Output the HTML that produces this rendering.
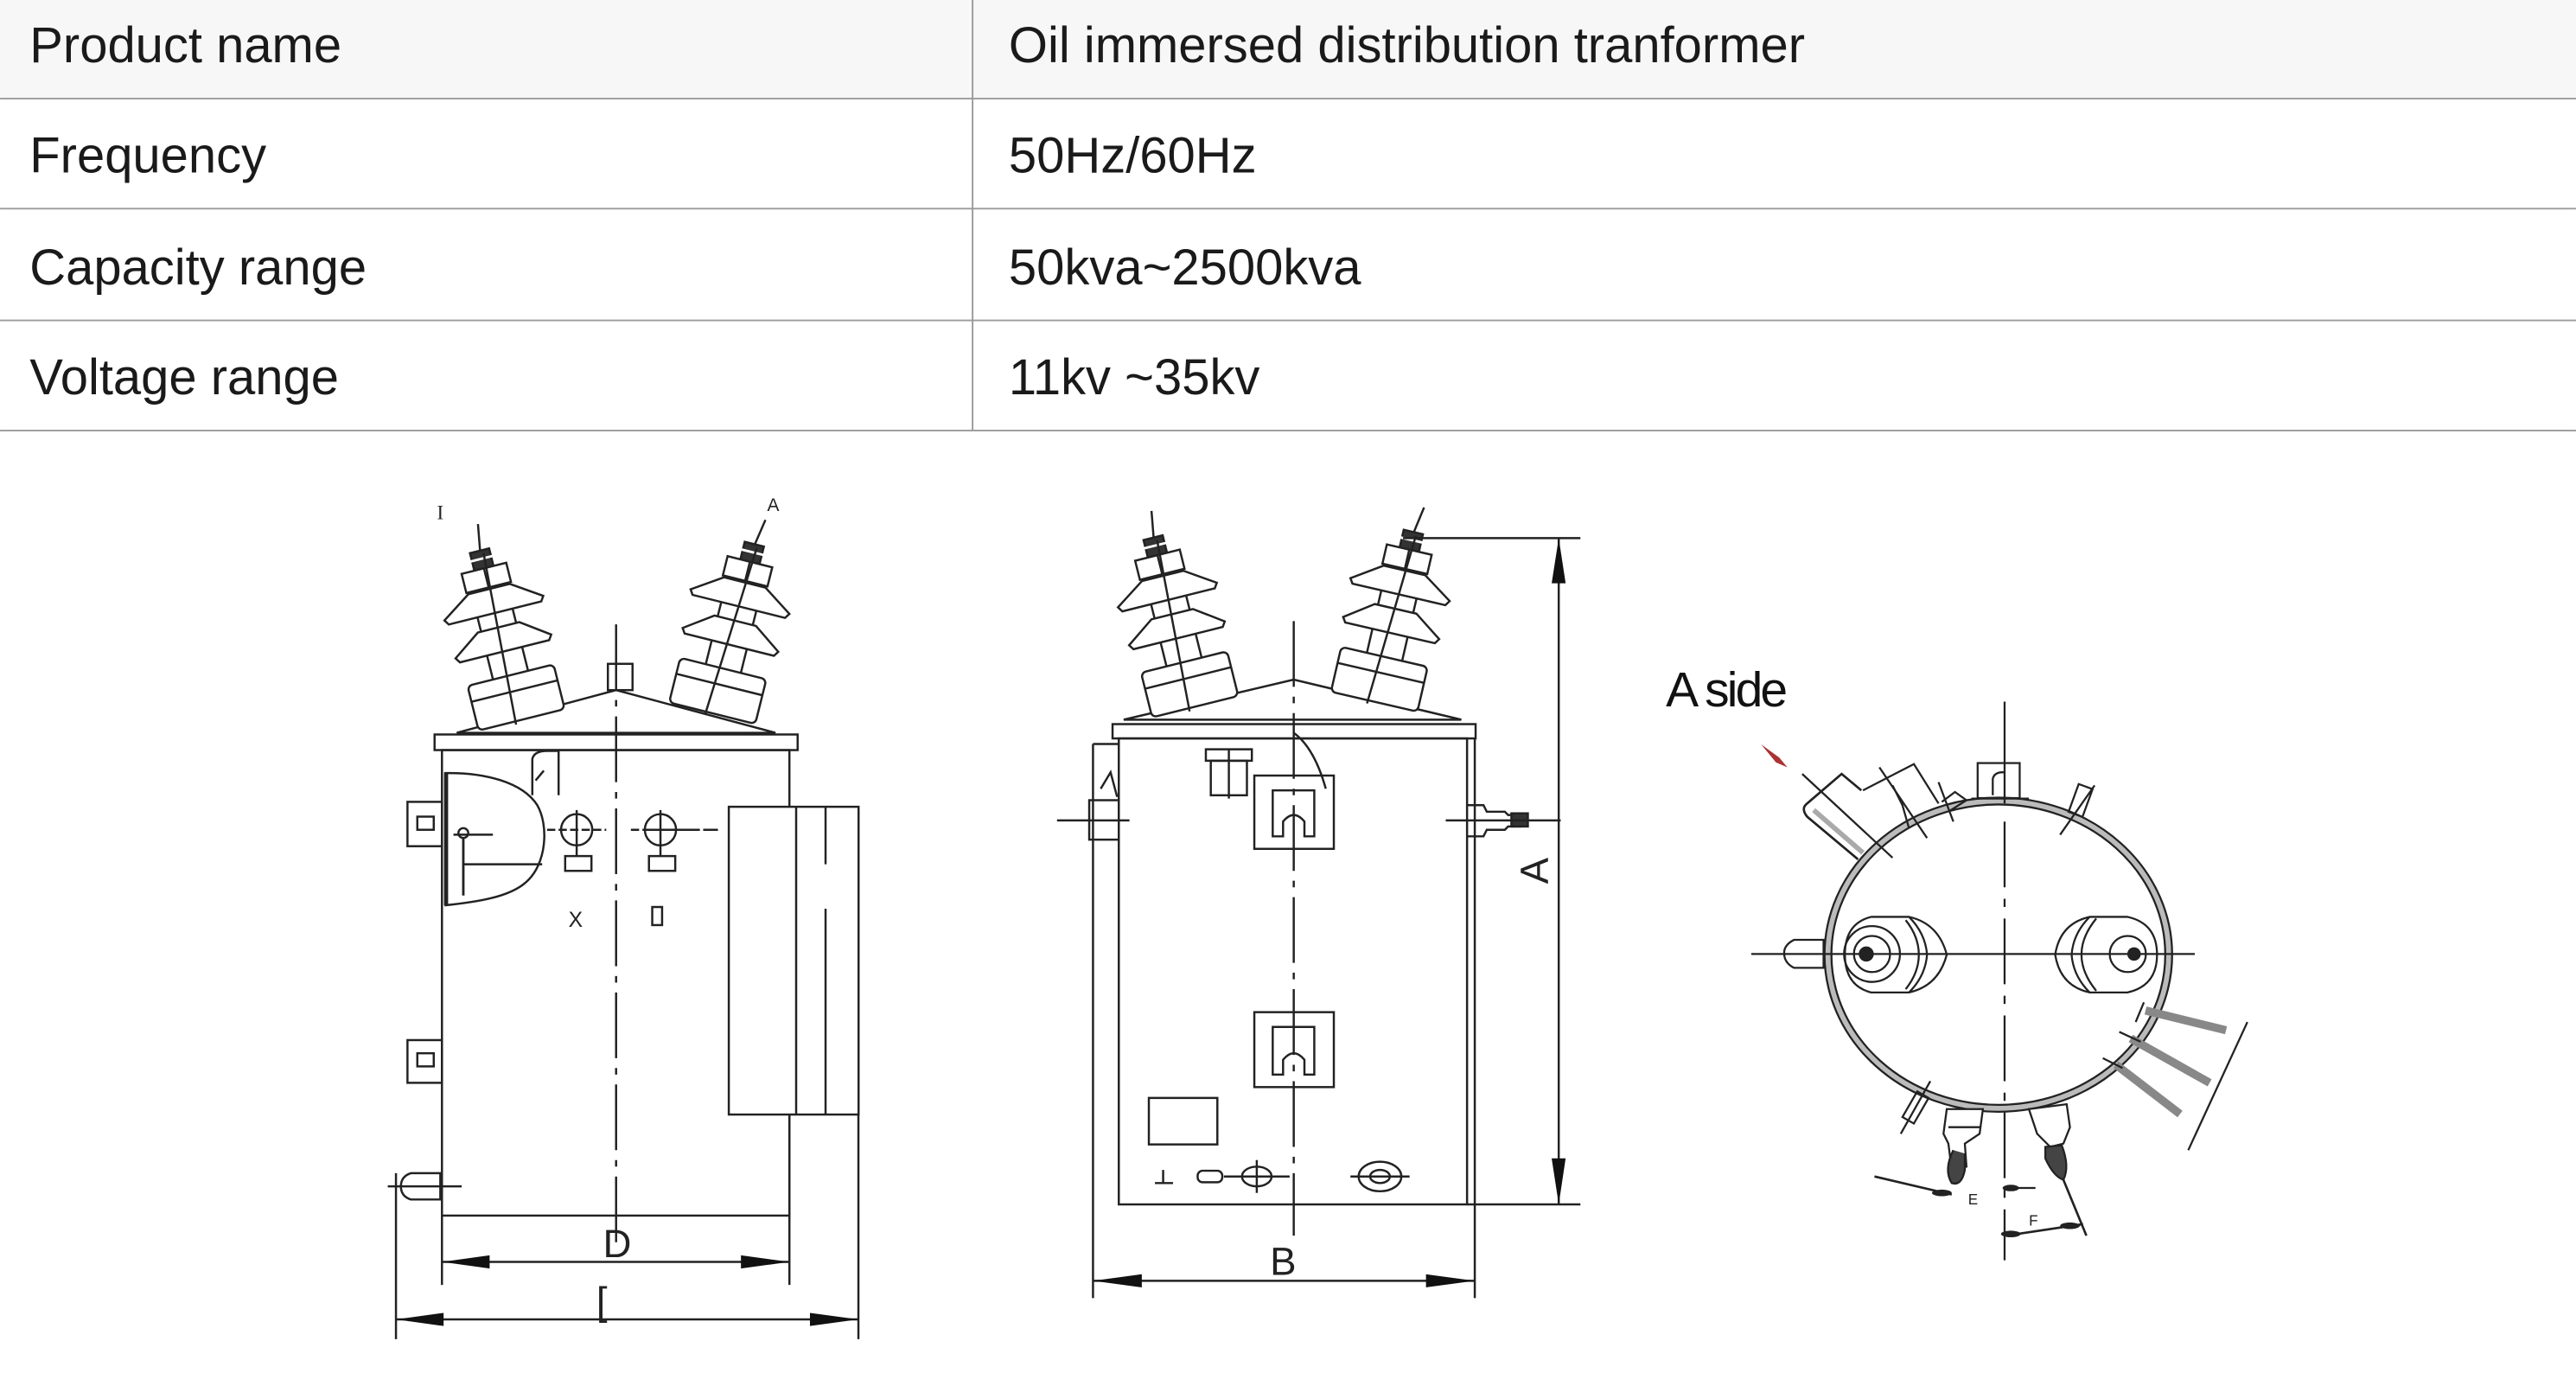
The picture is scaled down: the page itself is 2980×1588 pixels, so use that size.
<!DOCTYPE html>
<html><head><meta charset="utf-8"><style>
html,body{margin:0;padding:0;background:#fff;}
svg{display:block;}
</style></head><body>
<svg width="2980" height="1588" viewBox="0 0 1568 835.6" xmlns="http://www.w3.org/2000/svg">
<defs>
<g id="ins" fill="#fff" stroke="#222" stroke-width="1.3">
  <line x1="0" y1="-106" x2="3" y2="-124"/>
  <rect x="-6" y="-108" width="12" height="12" fill="#333"/>
  <line x1="-7" y1="-103" x2="7" y2="-103" stroke="#fff" stroke-width="1.5"/>
  <rect x="-11" y="-86" width="22" height="60"/>
  <rect x="-14" y="-97" width="28" height="12"/>
  <line x1="0" y1="-97" x2="0" y2="-85"/>
  <polygon points="-13,-84 13,-84 31,-72 29,-69 -29,-69 -31,-72"/>
  <polygon points="-13,-60 13,-60 30,-48 28,-45 -28,-45 -30,-48"/>
  <rect x="-27" y="-30" width="54" height="28" rx="3"/>
  <line x1="-27" y1="-20" x2="27" y2="-20"/>
  <line x1="2" y1="-106" x2="-4" y2="0"/>
</g>
</defs>

<!-- TABLE -->
<rect x="0" y="0" width="1568" height="60" fill="#f7f7f7"/>
<g stroke="#9a9a9a" stroke-width="1">
<line x1="0" y1="60" x2="1568" y2="60"/>
<line x1="0" y1="127" x2="1568" y2="127"/>
<line x1="0" y1="195" x2="1568" y2="195"/>
<line x1="0" y1="262" x2="1568" y2="262"/>
<line x1="592" y1="0" x2="592" y2="262"/>
</g>
<g font-family="Liberation Sans, sans-serif" font-size="30.5" fill="#1a1a1a">
<text x="18" y="38">Product name</text>
<text x="614" y="38">Oil immersed distribution tranformer</text>
<text x="18" y="105">Frequency</text>
<text x="614" y="105">50Hz/60Hz</text>
<text x="18" y="173">Capacity range</text>
<text x="614" y="173">50kva~2500kva</text>
<text x="18" y="240">Voltage range</text>
<text x="614" y="240">11kv ~35kv</text>
</g>

<!-- DRAWING 1 -->
<g stroke="#222" stroke-width="1.3" fill="none">
  <text x="266" y="316" font-family="Liberation Serif, serif" font-size="12" fill="#222" stroke="none">I</text>
  <text x="467" y="311" font-family="Liberation Sans, sans-serif" font-size="11" fill="#222" stroke="none">A</text>
  <polygon points="278,446 375,420 472,446" fill="#fff"/>
  <use href="#ins" transform="translate(318,440) rotate(-14)"/>
  <use href="#ins" transform="translate(433,436) rotate(14)"/>
  <rect x="370" y="404" width="15" height="16" fill="#fff"/>
  <rect x="264.5" y="447" width="221" height="9.5" fill="#fff"/>
  <rect x="269" y="456.5" width="211.5" height="283.3"/>
  <rect x="443.6" y="491" width="79" height="187.3" fill="#fff"/>
  <line x1="484.6" y1="491" x2="484.6" y2="678"/>
  <line x1="502.5" y1="491" x2="502.5" y2="526"/>
  <line x1="502.5" y1="553" x2="502.5" y2="678"/>
  <path d="M270.5 470.5 C295 470 318 476 327 490 C334 502 333 526 320 537 C310 546 290 549 270.5 551"/>
  <line x1="271.5" y1="470" x2="271.5" y2="551" stroke-width="2.5"/>
  <line x1="282" y1="510" x2="282" y2="545" stroke-width="1.5"/>
  <line x1="282" y1="526" x2="330" y2="526"/>
  <circle cx="282" cy="507" r="3"/><line x1="276" y1="508" x2="300" y2="508"/>
  <path d="M324 484 L324 462 Q325 457 333 457 L340 457 L340 484 M331 469 L326 475"/>
  <rect x="248" y="488" width="21" height="27"/><rect x="254" y="497" width="10" height="8"/>
  <rect x="248" y="633" width="21" height="26"/><rect x="254" y="641" width="10" height="8"/>
  <path d="M268 714 L250 714 Q244 716 244 722 Q244 728 250 730 L268 730 Z"/>
  <line x1="236" y1="722" x2="281" y2="722"/>
  <circle cx="351" cy="505" r="9.5"/><circle cx="402" cy="505" r="9.5"/>
  <rect x="344" y="521" width="16" height="9"/><rect x="395" y="521" width="16" height="9"/>
  <line x1="351" y1="493" x2="351" y2="521"/><line x1="402" y1="493" x2="402" y2="521"/>
  <line x1="333" y1="505" x2="369" y2="505" stroke-dasharray="5 2"/>
  <line x1="384" y1="505" x2="437" y2="505" stroke-dasharray="5 2 30 0"/>
  <text x="346" y="564" font-family="Liberation Sans, sans-serif" font-size="13" fill="#222" stroke="none">X</text>
  <rect x="397" y="552" width="6" height="11"/>
  <line x1="375" y1="380" x2="375" y2="762" stroke-dasharray="40 6 4 6"/>
  <line x1="269" y1="739.8" x2="269" y2="782"/>
  <line x1="480.5" y1="678" x2="480.5" y2="782"/>
  <line x1="241" y1="714" x2="241" y2="815"/>
  <line x1="522.5" y1="678" x2="522.5" y2="815"/>
  <line x1="269" y1="768" x2="480.5" y2="768"/>
  <line x1="241" y1="803" x2="522.5" y2="803"/>
  <text x="367" y="765" font-family="Liberation Sans, sans-serif" font-size="24" fill="#222" stroke="none">D</text>
  <text x="363" y="800" font-family="Liberation Sans, sans-serif" font-size="24" fill="#222" stroke="none">[</text>
</g>
<g fill="#111">
  <polygon points="269,768 298,764 298,772"/><polygon points="480.5,768 451,764 451,772"/>
  <polygon points="241,803 270,799 270,807"/><polygon points="522.5,803 493,799 493,807"/>
</g>

<!-- DRAWING 2 -->
<g stroke="#222" stroke-width="1.3" fill="none">
  <polygon points="684,438 787.5,413.6 889.5,438" fill="#fff"/>
  <use href="#ins" transform="translate(728,432) rotate(-14)"/>
  <use href="#ins" transform="translate(836,429) rotate(13)"/>
  <rect x="677.2" y="440.7" width="221" height="8.7" fill="#fff"/>
  <rect x="681" y="449.4" width="212" height="283.6"/>
  <line x1="665.3" y1="452.8" x2="665.3" y2="790"/>
  <line x1="897.7" y1="449.4" x2="897.7" y2="790"/>
  <line x1="665.3" y1="452.8" x2="681" y2="452.8"/>
  <rect x="663" y="487" width="18" height="24"/>
  <line x1="643.4" y1="499.3" x2="687.5" y2="499.3"/>
  <path d="M670 480 L676 470 L680 485"/>
  <path d="M734 463 L734 456 L762 456 L762 463 Z"/>
  <rect x="737" y="463" width="22" height="21"/>
  <line x1="748" y1="456" x2="748" y2="486"/>
  <rect x="763.5" y="472" width="48.4" height="44.6"/>
  <path d="M774.7 509 L774.7 481 L800 481 L800 509 L794 509 L794 500 Q787.5 492 781 500 L781 509 Z"/>
  <rect x="763.5" y="616" width="48.4" height="45.6"/>
  <path d="M774.7 654 L774.7 625 L800 625 L800 654 L794 654 L794 645 Q787.5 637 781 645 L781 654 Z"/>
  <path d="M787.5 446 Q800 455 807 480"/>
  <rect x="699.3" y="668.2" width="41.7" height="28.3"/>
  <path d="M708 712 L708 720 M703 720 L714 720"/>
  <rect x="729" y="712.5" width="15" height="7" rx="3"/>
  <ellipse cx="765" cy="716" rx="9" ry="6"/><line x1="765" y1="706" x2="765" y2="726"/><line x1="745" y1="716" x2="785" y2="716"/>
  <ellipse cx="840" cy="716" rx="13" ry="9"/><ellipse cx="840" cy="716" rx="6" ry="4"/><line x1="822" y1="716" x2="858" y2="716"/>
  <path d="M893 490 L903 490 L905 494 L916 494 L918 496 L926 496 L930 499.3 L926 503 L918 503 L916 505 L905 505 L903 509 L893 509"/>
  <rect x="920" y="495" width="10" height="8" fill="#333"/>
  <line x1="880" y1="499.3" x2="950" y2="499.3"/>
  <line x1="787.5" y1="378" x2="787.5" y2="752" stroke-dasharray="40 6 4 6"/>
  <line x1="854" y1="327.5" x2="962" y2="327.5"/>
  <line x1="893" y1="733" x2="962" y2="733"/>
  <line x1="948.8" y1="327.5" x2="948.8" y2="733"/>
  <line x1="665.3" y1="779.5" x2="897.7" y2="779.5"/>
  <text x="773" y="776" font-family="Liberation Sans, sans-serif" font-size="24" fill="#222" stroke="none">B</text>
  <text x="0" y="0" font-family="Liberation Sans, sans-serif" font-size="24" fill="#222" stroke="none" transform="translate(942,538) rotate(-90)">A</text>
</g>
<g fill="#111">
  <polygon points="948.8,327.5 944.5,355 953,355"/><polygon points="948.8,733 944.5,705 953,705"/>
  <polygon points="665.3,779.5 695,775.5 695,783.5"/><polygon points="897.7,779.5 868,775.5 868,783.5"/>
</g>

<!-- DRAWING 3 -->
<text x="1014" y="430" font-family="Liberation Sans, sans-serif" font-size="30" letter-spacing="-1.5" fill="#111">A side</text>
<g stroke="#222" stroke-width="1.2" fill="none">
  <ellipse cx="1216.4" cy="581" rx="103.7" ry="93.5" stroke="#bbb" stroke-width="3.5"/>
  <ellipse cx="1216.4" cy="581" rx="105.8" ry="95.6"/>
  <ellipse cx="1216.4" cy="581" rx="101.6" ry="91.4"/>
  <path d="M1131 523 L1100 497 Q1096 492 1100 489 L1121 471 L1133 481" stroke-width="1.4"/>
  <path d="M1134 519 L1104 493" stroke="#aaa" stroke-width="3"/>
  <line x1="1097" y1="471" x2="1152" y2="522"/>
  <path d="M1134 481 L1165 465 L1180 489"/>
  <line x1="1144" y1="467" x2="1173" y2="510"/>
  <path d="M1152 478 L1158 490 L1162 504"/>
  <path d="M1182 488 L1190 482 L1197 487 L1186 494"/><line x1="1180" y1="476" x2="1189" y2="500"/>
  <rect x="1203.8" y="464.4" width="25.6" height="21.3"/>
  <path d="M1213 484 L1213 474 Q1214 470 1219 470 L1220 470"/>
  <line x1="1200" y1="486" x2="1235" y2="486"/>
  <rect x="1262" y="478" width="9" height="18" transform="rotate(20 1266 487)"/>
  <line x1="1254" y1="508" x2="1275" y2="478"/>
  <path d="M1110 572 L1092 572 Q1086 575 1086 580 Q1086 586 1092 589 L1110 589 Z"/>
  <line x1="1220.2" y1="427" x2="1220.2" y2="489"/>
  <line x1="1220.2" y1="500" x2="1220.2" y2="767" stroke-dasharray="40 7 5 7"/>
  <line x1="1066" y1="580.6" x2="1336" y2="580.6"/>
  <path d="M1139 558 L1162 558 Q1180 562 1185 581 Q1180 600 1162 604 L1139 604 Q1123 600 1123 581 Q1123 562 1139 558 Z"/>
  <path d="M1162 558 Q1172 568 1173 581 Q1172 594 1162 604"/>
  <path d="M1160 560 Q1168 570 1168 581 Q1168 592 1160 602"/>
  <circle cx="1139.5" cy="580.6" r="17"/>
  <circle cx="1139.5" cy="580.6" r="11"/>
  <circle cx="1136" cy="580.6" r="4" fill="#222"/>
  <path d="M1295 558 L1272 558 Q1254 562 1251 581 Q1254 600 1272 604 L1295 604 Q1313 600 1313 581 Q1313 562 1295 558 Z"/>
  <path d="M1272 558 Q1262 568 1261 581 Q1262 594 1272 604"/>
  <path d="M1276 559 Q1267 570 1267 581 Q1267 592 1276 603"/>
  <circle cx="1295.2" cy="580.6" r="11"/>
  <circle cx="1299" cy="580.6" r="3.5" fill="#222"/>
  <g stroke="#888" stroke-width="5">
    <line x1="1306" y1="615" x2="1355" y2="627"/>
    <line x1="1297" y1="632" x2="1345" y2="659"/>
    <line x1="1288" y1="648" x2="1327" y2="678"/>
  </g>
  <line x1="1332" y1="700" x2="1368" y2="622"/>
  <line x1="1305" y1="610" x2="1300" y2="622"/>
  <line x1="1290" y1="628" x2="1303" y2="634"/>
  <line x1="1280" y1="644" x2="1292" y2="650"/>
  <rect x="1162" y="665" width="8" height="18" transform="rotate(30 1166 674)"/>
  <line x1="1175" y1="658" x2="1157" y2="690"/>
  <path d="M1185 675 L1207 675 L1205 690 L1196 696 L1197 710 L1188 712 L1186 696 L1183 690 Z" fill="#fff"/>
  <path d="M1189 700 Q1183 712 1188 720 Q1194 722 1196 712 L1196 702" fill="#444"/>
  <line x1="1186" y1="686" x2="1206" y2="686"/>
  <path d="M1235 675 L1258 672 L1260 686 L1256 696 L1248 698 L1240 690 Z" fill="#fff"/>
  <path d="M1245 698 L1255 697 Q1260 710 1256 718 Q1250 716 1245 705 Z" fill="#444"/>
  <line x1="1141" y1="716" x2="1188" y2="727" stroke-width="1.4"/>
  <line x1="1256" y1="718" x2="1270" y2="752" stroke-width="1.4"/>
  <line x1="1228" y1="751" x2="1268" y2="745" stroke-width="1.4"/>
  <line x1="1224" y1="723" x2="1239" y2="723"/>
  <text x="1198" y="733" font-family="Liberation Sans, sans-serif" font-size="9" fill="#222" stroke="none">E</text>
  <text x="1235" y="746" font-family="Liberation Sans, sans-serif" font-size="9" fill="#222" stroke="none">F</text>
</g>
<g fill="#222">
  <ellipse cx="1182" cy="726" rx="6" ry="2"/>
  <ellipse cx="1224" cy="751" rx="6" ry="2"/>
  <ellipse cx="1224" cy="723" rx="5" ry="2"/>
  <ellipse cx="1260" cy="746" rx="6" ry="2"/>
</g>
<path d="M1072 453 L1083 461 L1088 467 L1081 464 Z" fill="#a33"/>
</svg>
</body></html>
